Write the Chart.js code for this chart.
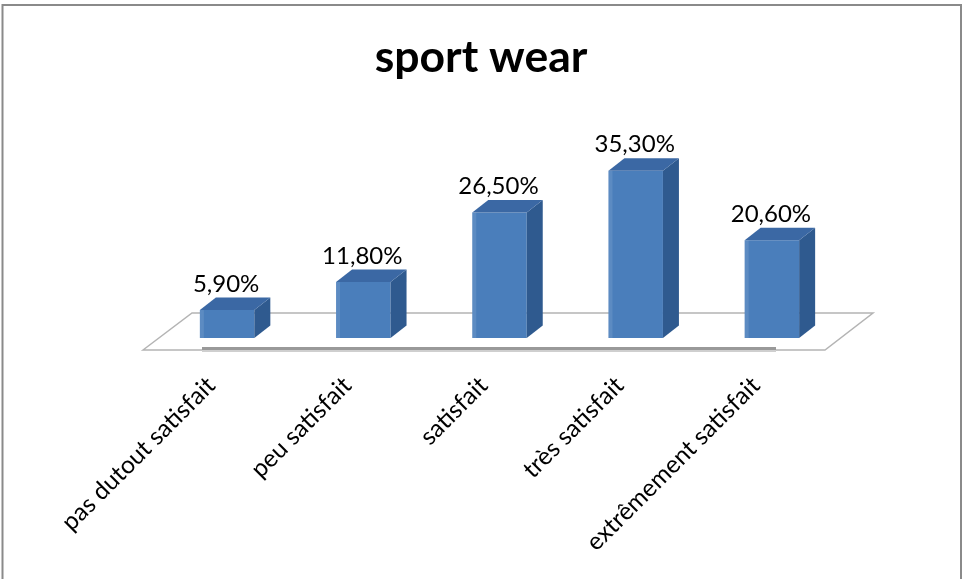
<!DOCTYPE html>
<html><head><meta charset="utf-8">
<script src="https://cdn.jsdelivr.net/npm/chart.js@4.4.1/dist/chart.umd.min.js"></script>
<style>html,body{margin:0;padding:0;background:#fff;} canvas{display:block;}</style>
</head><body>
<canvas id="c" width="963" height="579"></canvas>
<script>
// ---- data ----
const categories = ['pas dutout satisfait', 'peu satisfait', 'satisfait', 'très satisfait', 'extrêmement satisfait'];
const values = [5.9, 11.8, 26.5, 35.3, 20.6];
const valueLabels = ['5,90%', '11,80%', '26,50%', '35,30%', '20,60%'];
const chartTitle = 'sport wear';

// ---- style ----
const DEPTH_X = 16, DEPTH_Y = 12.5;
const FRONT = '#4a7ebb', SIDE = '#2f5a8f', TOP = '#3b68a4';

const bar3d = {
  id: 'bar3d',
  beforeDraw(chart) {
    const ctx = chart.ctx;
    ctx.save();
    ctx.fillStyle = '#fff';
    ctx.fillRect(0, 0, chart.width, chart.height);
    ctx.strokeStyle = '#8a8a8a';
    ctx.lineWidth = 2;
    ctx.strokeRect(2.5, 5, 958.5, 580);
    ctx.restore();
  },
  beforeDatasetsDraw(chart) {
    const ctx = chart.ctx, ca = chart.chartArea;
    const base = chart.scales.y.getPixelForValue(0);
    const fy = base + 12, by = base - 25;
    ctx.save();
    ctx.strokeStyle = '#b4b4b4';
    ctx.lineWidth = 1.5;
    ctx.beginPath();
    ctx.moveTo(ca.left - 16, fy);
    ctx.lineTo(ca.left + 33, by);
    ctx.lineTo(ca.right + 33, by);
    ctx.lineTo(ca.right - 15, fy);
    ctx.closePath();
    ctx.stroke();
    ctx.strokeStyle = '#999';
    ctx.lineWidth = 3;
    ctx.beginPath();
    ctx.moveTo(ca.left + 43, fy - 1.5);
    ctx.lineTo(ca.right - 64, fy - 1.5);
    ctx.stroke();
    ctx.strokeStyle = '#cfcfcf';
    ctx.lineWidth = 2;
    ctx.beginPath();
    ctx.moveTo(ca.left + 43, fy + 1);
    ctx.lineTo(ca.right - 64, fy + 1);
    ctx.stroke();
    ctx.restore();
  },
  afterDatasetsDraw(chart) {
    const ctx = chart.ctx;
    const meta = chart.getDatasetMeta(0);
    ctx.save();
    meta.data.forEach((el, i) => {
      const p = el.getProps(['x', 'y', 'base', 'width'], true);
      const l = p.x - p.width / 2, r = p.x + p.width / 2;
      // side face
      ctx.fillStyle = SIDE;
      ctx.beginPath();
      ctx.moveTo(r, p.y);
      ctx.lineTo(r + DEPTH_X, p.y - DEPTH_Y);
      ctx.lineTo(r + DEPTH_X, p.base - DEPTH_Y);
      ctx.lineTo(r, p.base);
      ctx.closePath();
      ctx.fill();
      // top face
      ctx.fillStyle = TOP;
      ctx.beginPath();
      ctx.moveTo(l, p.y);
      ctx.lineTo(l + DEPTH_X, p.y - DEPTH_Y);
      ctx.lineTo(r + DEPTH_X, p.y - DEPTH_Y);
      ctx.lineTo(r, p.y);
      ctx.closePath();
      ctx.fill();
      // light left edge of front
      ctx.fillStyle = 'rgba(255,255,255,0.10)';
      ctx.fillRect(l, p.y, 4, p.base - p.y);
      // value label
      ctx.fillStyle = '#000';
      ctx.font = '24px Lato';
      ctx.textAlign = 'center';
      ctx.textBaseline = 'alphabetic';
      ctx.fillText(valueLabels[i], p.x - 1, p.y - 18.5);
    });
    ctx.restore();
  }
};

Chart.defaults.font.family = 'Lato';

new Chart(document.getElementById('c'), {
  type: 'bar',
  data: {
    labels: categories,
    datasets: [{
      data: values,
      backgroundColor: FRONT,
      borderWidth: 0,
      barPercentage: 0.4,
      categoryPercentage: 1.0
    }]
  },
  options: {
    responsive: false,
    animation: false,
    layout: { padding: { left: 122, right: 123, top: 0, bottom: 0 } },
    plugins: {
      legend: { display: false },
      tooltip: { enabled: false },
      title: {
        display: true,
        text: chartTitle,
        color: '#000',
        font: { size: 44.5, weight: 'bold', family: 'Lato' },
        padding: { top: 31, bottom: 64 }
      }
    },
    scales: {
      y: {
        display: true,
        min: 0, max: 40,
        ticks: { display: false },
        grid: { display: false, drawTicks: false },
        border: { display: false },
        afterFit(scale) { scale.width = 37; }
      },
      x: {
        grid: { display: false, drawTicks: false },
        border: { display: false },
        ticks: {
          color: '#000',
          font: { size: 24.5, family: 'Lato' },
          minRotation: 45,
          maxRotation: 45,
          autoSkip: false,
          padding: 33,
          labelOffset: -16
        },
        afterFit(scale) { scale.height = 241; }
      }
    }
  },
  plugins: [bar3d]
});
</script>
</body></html>
